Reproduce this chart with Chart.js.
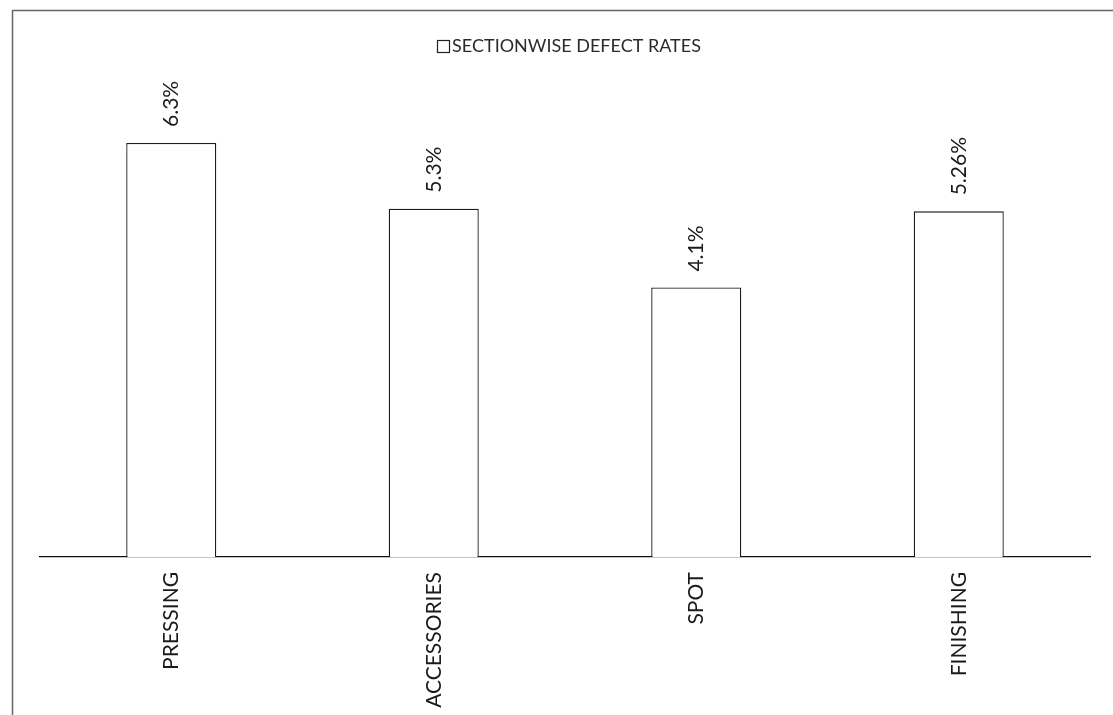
<!DOCTYPE html>
<html>
<head>
<meta charset="utf-8">
<script src="https://cdn.jsdelivr.net/npm/chart.js@4/dist/chart.umd.min.js"></script>
<style>
  html, body { margin: 0; padding: 0; background: #fff; }
  #wrap { position: relative; width: 1113px; height: 715px; }
</style>
</head>
<body>
<div id="wrap"><canvas id="chart" width="1113" height="715"></canvas></div>
<script>
// Section names and their defect rates (%)
const sections = ['PRESSING', 'ACCESSORIES', 'SPOT', 'FINISHING'];
const defectRates = [6.3, 5.3, 4.1, 5.26];
const rateLabels = ['6.3%', '5.3%', '4.1%', '5.26%'];
const seriesName = 'SECTIONWISE DEFECT RATES';

const FONT = 'Lato, "Open Sans", sans-serif';

// Outer frame of the chart box
const framePlugin = {
  id: 'frame',
  beforeDraw(chart) {
    const ctx = chart.ctx;
    ctx.save();
    ctx.fillStyle = '#fff';
    ctx.fillRect(0, 0, chart.width, chart.height);
    ctx.strokeStyle = '#66666f';
    ctx.lineWidth = 1.5;
    ctx.beginPath();
    ctx.moveTo(12.5, chart.height);
    ctx.lineTo(12.5, 10.5);
    ctx.lineTo(chart.width, 10.5);
    ctx.stroke();
    ctx.restore();
  }
};

// Legend: hollow square followed by the series name
const legendPlugin = {
  id: 'simpleLegend',
  afterDraw(chart) {
    const ctx = chart.ctx;
    ctx.save();
    ctx.font = '18px ' + FONT;
    const text = chart.data.datasets[0].label;
    const tw = ctx.measureText(text).width;
    const box = 12, gap = 3;
    const total = box + gap + tw;
    const x0 = 569 - total / 2;
    const cy = 46;
    ctx.strokeStyle = '#222';
    ctx.lineWidth = 1.2;
    ctx.strokeRect(Math.round(x0) + 0.5, Math.round(cy - box / 2) + 0.5, box, box);
    ctx.fillStyle = '#2a2a2a';
    ctx.textBaseline = 'middle';
    ctx.textAlign = 'left';
    ctx.fillText(text, x0 + box + gap, cy);
    ctx.restore();
  }
};

// Rotated value labels above each bar
const valueLabelPlugin = {
  id: 'valueLabels',
  afterDatasetsDraw(chart) {
    const ctx = chart.ctx;
    const meta = chart.getDatasetMeta(0);
    ctx.save();
    ctx.font = '21px ' + FONT;
    ctx.fillStyle = '#1a1a1a';
    ctx.textAlign = 'left';
    ctx.textBaseline = 'middle';
    meta.data.forEach((bar, i) => {
      ctx.save();
      ctx.translate(bar.x, bar.y - 16);
      ctx.rotate(-Math.PI / 2);
      ctx.fillText(rateLabels[i], 0, 0);
      ctx.restore();
    });
    ctx.restore();
  }
};

new Chart(document.getElementById('chart'), {
  type: 'bar',
  data: {
    labels: sections,
    datasets: [{
      label: seriesName,
      data: defectRates,
      backgroundColor: '#ffffff',
      borderColor: '#1a1a1a',
      borderWidth: 1.3,
      borderSkipped: 'bottom',
      categoryPercentage: 1.0,
      barPercentage: 0.343
    }]
  },
  options: {
    responsive: false,
    animation: false,
    devicePixelRatio: 1,
    layout: { padding: { left: 40, right: 23, top: 97, bottom: 0 } },
    plugins: {
      legend: { display: false },
      tooltip: { enabled: false }
    },
    scales: {
      x: {
        grid: { display: false, drawTicks: false },
        border: { display: true, color: '#111', width: 1.3 },
        ticks: {
          minRotation: 90,
          maxRotation: 90,
          padding: 15,
          color: '#1a1a1a',
          font: { family: FONT, size: 21 }
        },
        afterFit(scale) { scale.height = 158; }
      },
      y: {
        display: false,
        min: 0,
        max: 7
      }
    }
  },
  plugins: [framePlugin, legendPlugin, valueLabelPlugin]
});
</script>
</body>
</html>
